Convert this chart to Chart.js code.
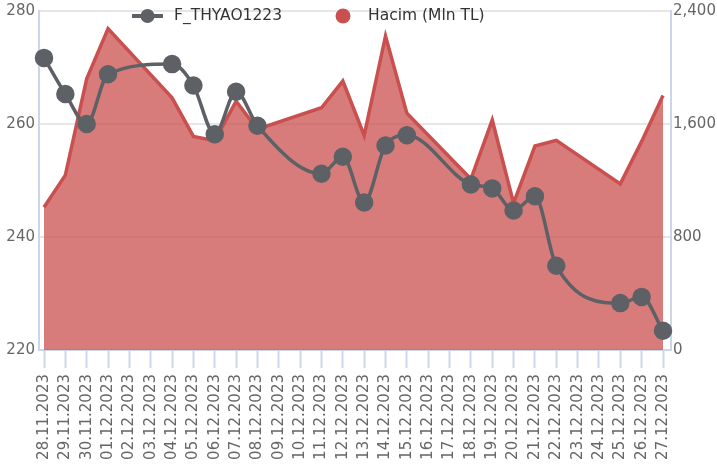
<!DOCTYPE html>
<html>
<head>
<meta charset="utf-8">
<script src="https://cdn.jsdelivr.net/npm/chart.js@4.4.1/dist/chart.umd.min.js"></script>
<style>
  body { margin: 0; background: #fff; }
  #wrap { position: relative; width: 717px; height: 470px; }
</style>
</head>
<body>
<div id="wrap"><canvas id="thyaoChart"></canvas></div>
<script>
// ============================
// DATA
// ============================

const tarih = [
    '28.11.2023', '29.11.2023', '30.11.2023', '01.12.2023', '02.12.2023',
    '03.12.2023', '04.12.2023', '05.12.2023', '06.12.2023', '07.12.2023',
    '08.12.2023', '09.12.2023', '10.12.2023', '11.12.2023', '12.12.2023',
    '13.12.2023', '14.12.2023', '15.12.2023', '16.12.2023', '17.12.2023',
    '18.12.2023', '19.12.2023', '20.12.2023', '21.12.2023', '22.12.2023',
    '23.12.2023', '24.12.2023', '25.12.2023', '26.12.2023', '27.12.2023'
];

// vadeli fiyat (hafta sonu bos)
const fiyat = [
    271.7, 265.3, 260.0, 268.8, null,
    null, 270.6, 266.8, 258.2, 265.7,
    259.7, null, null, 251.2, 254.2,
    246.1, 256.2, 258.0, null, null,
    249.3, 248.6, 244.7, 247.2, 234.9,
    null, null, 228.3, 229.4, 223.4
];

// hacim, milyon TL
const hacim = [
    1010, 1238, 1920, 2275, null,
    null, 1785, 1512, 1482, 1762,
    1563, null, null, 1715, 1904,
    1519, 2223, 1677, null, null,
    1210, 1628, 1040, 1444, 1484,
    null, null, 1176, 1477, 1801
];

const fiyatTicks = [220, 280, 20];   // min, max, step
const hacimTicks = [0, 2400, 800];

// ============================
// STYLE
// ============================

const gri = '#5d6166';
const kirmizi = 'rgb(201, 80, 79)';
const kirmiziDolgu = 'rgba(201, 80, 79, 0.75)';
const eksenRenk = '#ccd6eb';
const yaziFont = 'DejaVu Sans';

// legend drawn over the plot, like the original
const ustLegend = {
    id: 'ustLegend',
    afterDraw(chart) {
        const ctx = chart.ctx;
        const y = 16;
        ctx.save();
        ctx.font = '15.5px "' + yaziFont + '"';
        ctx.textBaseline = 'middle';
        ctx.textAlign = 'left';

        let x = 132;
        const ds0 = chart.data.datasets[0];
        ctx.strokeStyle = ds0.borderColor;
        ctx.lineWidth = 4;
        ctx.beginPath();
        ctx.moveTo(x, y);
        ctx.lineTo(x + 31, y);
        ctx.stroke();
        ctx.fillStyle = ds0.pointBackgroundColor;
        ctx.beginPath();
        ctx.arc(x + 15.5, y, 7, 0, Math.PI * 2);
        ctx.fill();
        x += 42;
        ctx.fillStyle = '#333333';
        ctx.fillText(ds0.label, x, y);
        x += ctx.measureText(ds0.label).width + 53;

        const ds1 = chart.data.datasets[1];
        ctx.fillStyle = ds1.borderColor;
        ctx.beginPath();
        ctx.arc(x + 8, y, 7.5, 0, Math.PI * 2);
        ctx.fill();
        x += 33;
        ctx.fillStyle = '#333333';
        ctx.fillText(ds1.label, x, y);
        ctx.restore();
    }
};

// small inset of the category axis inside the plot borders
const xInset = {
    id: 'xInset',
    afterLayout(chart) {
        const s = chart.scales.x;
        s._startPixel = s.left + 5;
        s._endPixel = s.right - 8;
        s._length = s._endPixel - s._startPixel;
    }
};

// ============================
// CHART
// ============================

const ctx = document.getElementById('thyaoChart');

new Chart(ctx, {

    type: 'line',

    data: {

        labels: tarih,

        datasets: [{

            label: 'F_THYAO1223',
            data: fiyat,
            yAxisID: 'y',
            borderColor: gri,
            borderWidth: 3.5,
            pointBackgroundColor: gri,
            pointBorderColor: gri,
            pointRadius: 7.5,
            pointHoverRadius: 7.5,
            cubicInterpolationMode: 'monotone',
            spanGaps: true,
            fill: false,
            order: 0

        }, {

            label: 'Hacim (Mln TL)',
            data: hacim,
            yAxisID: 'y1',
            borderColor: kirmizi,
            backgroundColor: kirmiziDolgu,
            borderWidth: 3.5,
            pointRadius: 0,
            tension: 0,
            spanGaps: true,
            fill: 'origin',
            order: 1

        }]

    },

    options: {

        responsive: true,
        maintainAspectRatio: false,
        animation: false,

        layout: {
            padding: { top: 7, left: 0, right: 0, bottom: 0 }
        },

        plugins: {
            legend: { display: false },
            tooltip: { enabled: false }
        },

        scales: {

            x: {
                offset: false,
                grid: {
                    drawOnChartArea: false,
                    tickLength: 18,
                    tickColor: eksenRenk,
                    tickWidth: 2
                },
                border: { color: eksenRenk, width: 2 },
                ticks: {
                    autoSkip: false,
                    minRotation: 90,
                    maxRotation: 90,
                    padding: 6,
                    color: '#666666',
                    font: { family: yaziFont, size: 15 }
                },
                afterFit(s) {
                    s.height = 120;
                    s.paddingLeft = 0;
                    s.paddingRight = 0;
                }
            },

            y: {
                position: 'left',
                min: fiyatTicks[0],
                max: fiyatTicks[1],
                grid: {
                    color: '#e6e6e6',
                    lineWidth: 2,
                    drawTicks: false
                },
                border: { color: eksenRenk, width: 2 },
                ticks: {
                    stepSize: fiyatTicks[2],
                    padding: 4,
                    color: '#666666',
                    font: { family: yaziFont, size: 15 }
                },
                afterFit(s) {
                    s.width = 39;
                    s.paddingTop = 0;
                    s.paddingBottom = 0;
                }
            },

            y1: {
                position: 'right',
                min: hacimTicks[0],
                max: hacimTicks[1],
                grid: {
                    drawOnChartArea: false,
                    drawTicks: false
                },
                border: { color: eksenRenk, width: 2 },
                ticks: {
                    stepSize: hacimTicks[2],
                    padding: 2,
                    color: '#666666',
                    font: { family: yaziFont, size: 15 }
                },
                afterFit(s) {
                    s.width = 46;
                    s.paddingTop = 0;
                    s.paddingBottom = 0;
                }
            }

        }

    },

    plugins: [xInset, ustLegend]

});
</script>
</body>
</html>
